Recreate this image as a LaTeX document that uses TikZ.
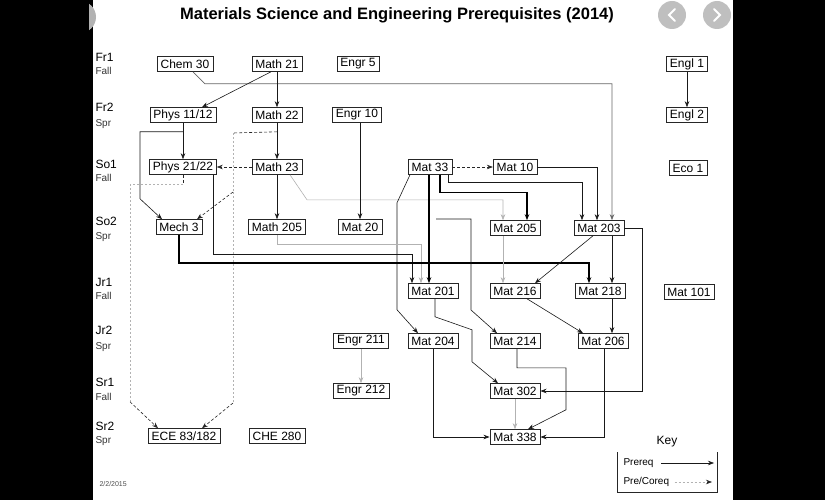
\documentclass[tikz,border=0pt]{standalone}
\usepackage{fontspec}
\setmainfont{Liberation Sans}
\usetikzlibrary{arrows.meta, positioning, calc}
\tikzset{
	>={Stealth[length=6pt,width=4.5pt]},
	course/.style={draw=black!85, line width=0.6pt, fill=white, inner xsep=3.5pt, inner ysep=1.5pt, minimum height=15pt, font=\fontsize{12}{14}\selectfont},
	req/.style={->, draw=black!90, line width=0.6pt},
	bigreq/.style={->, draw=black, line width=1.4pt},
	faint/.style={->, draw=black!30, line width=0.6pt},
	mid/.style={->, draw=black!60, line width=0.7pt},
	coreq/.style={->, draw=black!85, line width=0.6pt, dash pattern=on 3pt off 2pt},
	coline/.style={draw=black!85, line width=0.6pt, dash pattern=on 3pt off 2pt},
	faintco/.style={draw=black!30, line width=0.6pt, dash pattern=on 2pt off 2pt},
	term/.style={anchor=west, font=\fontsize{12}{14}\selectfont},
	season/.style={anchor=west, text=black!80, font=\fontsize{10}{12}\selectfont},
}

\begin{document}
\begin{tikzpicture}[x=1pt, y=-1pt]
	\useasboundingbox (0,0) rectangle (825,500);
	\fill[black] (0,0) rectangle (93,500);
	\fill[black] (733,0) rectangle (825,500);
	\begin{scope}
		\clip (89,0) rectangle (100,40);
		\fill[black!30] (80,17) circle (16);
	\end{scope}
	\fill[black!25] (672,15) circle (14);
	\fill[black!25] (717,15) circle (14);
	\draw[white, line width=2pt, line cap=round] (675,9) -- (669,15) -- (675,21);
	\draw[white, line width=2pt, line cap=round] (714,9) -- (720,15) -- (714,21);

	\node[font=\bfseries\fontsize{16.5}{18}\selectfont] (title) at (397,15) {Materials Science and Engineering Prerequisites (2014)};

	% terms
	\node[term] (fr1) at (92,57) {Fr1};   \node[season] at (92,71) {Fall};
	\node[term] (fr2) at (92,107) {Fr2};  \node[season] at (92,124) {Spr};
	\node[term] (so1) at (92,164) {So1};  \node[season] at (92,178) {Fall};
	\node[term] (so2) at (92,221) {So2};  \node[season] at (92,237) {Spr};
	\node[term] (jr1) at (92,282) {Jr1};  \node[season] at (92,296) {Fall};
	\node[term] (jr2) at (92,330) {Jr2};  \node[season] at (92,347) {Spr};
	\node[term] (sr1) at (92,382) {Sr1};  \node[season] at (92,397) {Fall};
	\node[term] (sr2) at (92,426) {Sr2};  \node[season] at (92,441) {Spr};

	% courses
	\node[course] (chem30) at (185,64) {Chem 30};
	\node[course] (math21) at (277,64) {Math 21};
	\node[course] (engr5) at (358,64) {Engr 5};
	\node[course] (engl1) at (687,64) {Engl 1};
	\node[course] (phys1) at (183,115) {Phys 11/12};
	\node[course] (math22) at (277,115) {Math 22};
	\node[course] (engr10) at (357,115) {Engr 10};
	\node[course] (engl2) at (687,115) {Engl 2};
	\node[course] (phys2) at (183,167) {Phys 21/22};
	\node[course] (math23) at (277,167) {Math 23};
	\node[course] (mat33) at (430,167) {Mat 33};
	\node[course] (mat10) at (515,167) {Mat 10};
	\node[course] (eco1) at (688,168) {Eco 1};
	\node[course] (mech3) at (179,227) {Mech 3};
	\node[course] (math205) at (277,227) {Math 205};
	\node[course] (mat20) at (360,227) {Mat 20};
	\node[course] (mat205) at (515,228) {Mat 205};
	\node[course] (mat203) at (599,228) {Mat 203};
	\node[course] (mat201) at (433,291) {Mat 201};
	\node[course] (mat216) at (515,291) {Mat 216};
	\node[course] (mat218) at (600,291) {Mat 218};
	\node[course] (mat101) at (689,292) {Mat 101};
	\node[course] (engr211) at (361,341) {Engr 211};
	\node[course] (mat204) at (433,341) {Mat 204};
	\node[course] (mat214) at (515,341) {Mat 214};
	\node[course] (mat206) at (603,341) {Mat 206};
	\node[course] (engr212) at (361,391) {Engr 212};
	\node[course] (mat302) at (515,391) {Mat 302};
	\node[course] (mat338) at (515,437) {Mat 338};
	\node[course] (ece) at (184,436) {ECE 83/182};
	\node[course] (che280) at (277,436) {CHE 280};

	\coordinate (mdrop) at (233,192);
	\coordinate (m214) at (436,219);

	% prerequisites
	\draw[mid] ([xshift=8pt]chem30.south) -- ++(12,12) -| ([xshift=13pt]mat203.north);
	\draw[req] ([xshift=-6pt]math21.south) -- ([xshift=19pt]phys1.north);
	\draw[req] (math21.south) -- (math22.north);
	\draw[req] (engl1.south) -- (engl2.north);
	\draw[req] (phys1.south) -- (phys2.north);
	\draw[req] (phys1.south) ++(0,9) -- ++(-43,0) -- ++(0,67) -- ([xshift=-17pt]mech3.north);
	\draw[req] (math22.south) -- (math23.north);
	\draw[coline] (math22.south) ++(0,9) -- (mdrop |- {(0,133)}) coordinate (mtop);
	\draw[faintco] (mtop) -- (mdrop);
	\draw[coreq] (mdrop) -- ([xshift=18pt]mech3.north);
	\draw[faintco] (mdrop) -- ++(0,211) coordinate (mlow);
	\draw[coreq] (mlow) -- ([xshift=18pt]ece.north);
	\draw[coreq] (math23.west) -- (phys2.east);
	\draw[coline] (phys2.south) -- ++(0,10) coordinate (pdrop);
	\draw[faintco] (pdrop) -- ++(-53,0) -- ++(0,217) coordinate (plow);
	\draw[coreq] (plow) -- ([xshift=-26pt]ece.north);
	\draw[req] ([xshift=30pt]phys2.south) -- ++(0,79) -| ([xshift=-21pt]mat201.north);
	\draw[faint] ([xshift=13pt]math23.south) -- ++(17,25) -| ([xshift=-12pt]mat205.north);
	\draw[req] (math23.south) -- (math205.north);
	\draw[req] (engr10.south -| mat20.north) -- (mat20.north);
	\draw[coreq] (mat33.east) -- (mat10.west);
	\draw[req] (mat10.east) -| ([xshift=-2pt]mat203.north);
	\draw[req] ([xshift=18pt]mat33.south) -- ++(0,8) -| ([xshift=-17pt]mat203.north);
	\draw[bigreq] ([xshift=10pt]mat33.south) -- ++(0,18) -| ([xshift=12pt]mat205.north);
	\draw[bigreq] ([xshift=-1pt]mat33.south) -- ([xshift=-4pt]mat201.north);
	\draw[req] ([xshift=-20pt]mat33.south) -- ++(-13,28) -- ++(0,107) -- ([xshift=-15pt]mat204.north);
	\draw[faint] (math205.south) -- ++(0,9) -| ([xshift=-12pt]mat201.north);
	\draw[bigreq] (mech3.south) -- ++(0,28) -| ([xshift=-11pt]mat218.north);
	\draw[req] ([xshift=-6pt]mat203.south) -- ([xshift=20pt]mat216.north);
	\draw[req] ([xshift=13pt]mat203.south) -- ([xshift=12pt]mat218.north);
	\draw[req] (mat203.east) -- ++(18,0) |- (mat302.east);
	\draw[faint] ([xshift=-12pt]mat205.south) -- ([xshift=-12pt]mat216.north);
	\draw[req] (m214) -- ++(35,0) -- ++(0,91) -- ([xshift=-18pt]mat214.north);
	\draw[req] ([xshift=2pt]mat201.south) -- ++(0,18) -- ++(37,13) -- ++(0,32) -- ([xshift=-17pt]mat302.north);
	\draw[req] ([xshift=12pt]mat216.south) -- ([xshift=-20pt]mat206.north);
	\draw[req] ([xshift=12pt]mat218.south) -- ([xshift=9pt]mat206.north);
	\draw[req] ([xshift=2pt]mat214.south) -- ++(0,19) -- ++(49,0) -- ++(0,42) -- ([xshift=13pt]mat338.north);
	\draw[req] (mat204.south) |- (mat338.west);
	\draw[req] ([xshift=1pt]mat206.south) |- (mat338.east);
	\draw[faint] (mat302.south) -- (mat338.north);
	\draw[faint] (engr211.south) -- (engr212.north);

	% key
	\node[font=\fontsize{12}{14}\selectfont] (key) at (667,442) {Key};
	\draw[draw=black!85, line width=0.6pt] (617,452) -- (617,492) -- (717,492) -- (717,452);
	\node[anchor=west, font=\fontsize{10}{12}\selectfont] (prereq) at (620,463) {Prereq};
	\node[anchor=west, font=\fontsize{10}{12}\selectfont] (precoreq) at (620,482) {Pre/Coreq};
	\coordinate (preend) at (714,463);
	\coordinate (coend) at (712,482);
	\draw[req] ([xshift=4pt]prereq.east) -- (preend);
	\draw[faintco] ([xshift=2pt]precoreq.east) -- ([xshift=-4pt]coend);
	\draw[->, draw=black!85, line width=0.6pt] ([xshift=-5pt]coend) -- (coend);

	\node[anchor=west, text=black!70, font=\fontsize{7}{8}\selectfont] (date) at (96,484) {2/2/2015};
\end{tikzpicture}
\end{document}
